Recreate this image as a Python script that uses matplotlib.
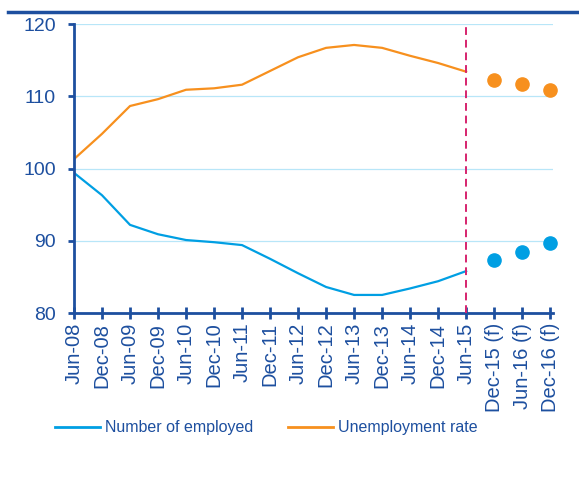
import matplotlib

matplotlib.use("Agg")
import matplotlib.pyplot as plt
from matplotlib.lines import Line2D

plt.rcParams["font.family"] = ["Liberation Sans", "DejaVu Sans"]

periods = ["Jun-08", "Dec-08", "Jun-09", "Dec-09", "Jun-10", "Dec-10", "Jun-11", "Dec-11",
           "Jun-12", "Dec-12", "Jun-13", "Dec-13", "Jun-14", "Dec-14", "Jun-15"]
forecast_periods = ["Dec-15 (f)", "Jun-16 (f)", "Dec-16 (f)"]

employed = [99.4, 96.3, 92.2, 90.9, 90.1, 89.8, 89.4, 87.5, 85.5, 83.6, 82.5, 82.5, 83.4, 84.4, 85.8]
unemployment = [101.3, 104.8, 108.65, 109.6, 110.9, 111.1, 111.6, 113.5, 115.4, 116.7, 117.1, 116.7,
                115.6, 114.6, 113.4]
employed_f = [87.4, 88.4, 89.7]
unemployment_f = [112.2, 111.7, 110.9]

BLUE = "#009fe3"
ORANGE = "#f7901e"
DARK = "#1d4f9f"
GRID = "#b8e6f8"
RED = "#d6246e"

fig = plt.figure(figsize=(5.79, 4.88), dpi=100)
ax = fig.add_axes([0.1278, 0.3586, 0.8272, 0.5922])

labels = periods + forecast_periods
x_hist = list(range(len(periods)))
x_fc = list(range(len(periods), len(labels)))

ax.plot(x_hist, employed, color=BLUE, lw=1.6)
ax.plot(x_hist, unemployment, color=ORANGE, lw=1.6)
ax.plot(x_fc, employed_f, "o", color=BLUE, ms=9.5, ls="none", clip_on=False)
ax.plot(x_fc, unemployment_f, "o", color=ORANGE, ms=9.5, ls="none", clip_on=False)
ax.axvline(len(periods) - 1, color=RED, lw=1.4, ls=(0, (4, 2.5)), zorder=3)

ax.set_ylim(80, 120)
ax.set_yticks([80, 90, 100, 110, 120])
ax.set_xlim(0, len(labels) - 1 + 0.1)
ax.set_xticks(range(len(labels)))
ax.set_xticklabels(labels, rotation=90)
ax.yaxis.grid(True, color=GRID, lw=0.9)
ax.set_axisbelow(True)

for side in ["top", "right"]:
    ax.spines[side].set_visible(False)
for side in ["left", "bottom"]:
    ax.spines[side].set_color(DARK)
    ax.spines[side].set_linewidth(2)
ax.tick_params(axis="y", colors=DARK, labelsize=14, length=4.5, width=2, direction="out", pad=8.5)
ax.tick_params(axis="x", colors=DARK, labelsize=14.5, length=8, width=2, direction="inout", pad=3)

handles = [Line2D([], [], color=BLUE, lw=2), Line2D([], [], color=ORANGE, lw=2)]
fig.legend(handles, ["Number of employed", "Unemployment rate"], loc="center", ncol=2,
           bbox_to_anchor=(0.46, 0.123), frameon=False, fontsize=11.5, labelcolor=DARK,
           handlelength=2.8, handletextpad=0.3, columnspacing=2.2)

fig.add_artist(Line2D([0.014, 1.0], [0.975, 0.975], color=DARK, lw=2.5, transform=fig.transFigure))

fig.savefig("out.png", dpi=100)
